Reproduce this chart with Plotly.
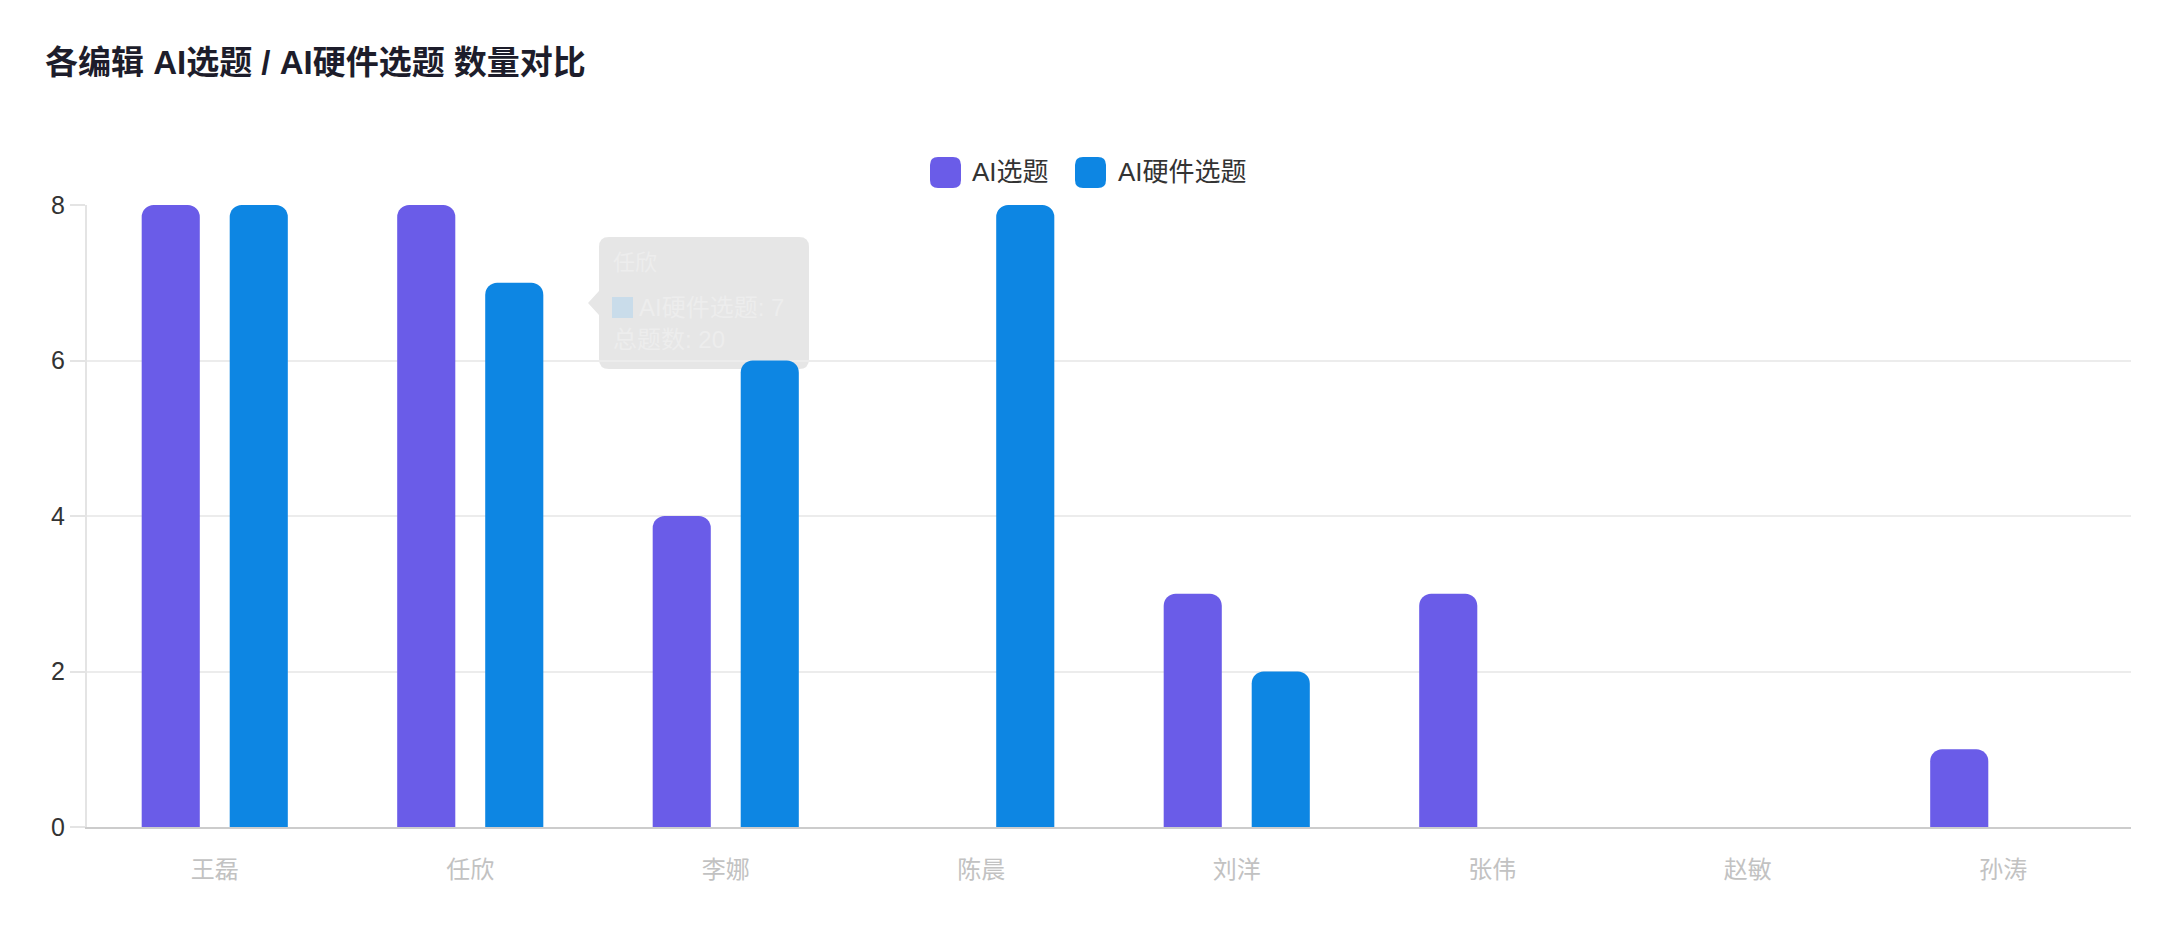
import plotly.graph_objects as go

# ---------------- data ----------------
editors = ["王磊", "任欣", "李娜", "陈晨", "刘洋", "张伟", "赵敏", "孙涛"]
ai_topics = [8, 8, 4, 0, 3, 3, 0, 1]
ai_hw_topics = [8, 7, 6, 8, 2, 0, 0, 0]
series_names = ["AI选题", "AI硬件选题"]
series_colors = ["#6a5ce8", "#0d86e3"]
y_ticks = [0, 2, 4, 6, 8]
title_text = "各编辑 AI选题 / AI硬件选题 数量对比"
tooltip_title = "任欣"
tooltip_line1 = "AI硬件选题: 7"
tooltip_line2 = "总题数: 20"

# ---------------- layout geometry (screen pixels) ----------------
OFF = 8                      # page body margin
W, H = 2158 - OFF, 926 - OFF  # figure size
L, R, T, B = 87, 2131, 205, 827   # plot area in screen pixels
FONT = "Liberation Sans, Noto Sans CJK SC, sans-serif"


def px_x(x):
    return (x - L) / (R - L)


def px_y(y):
    return (B - y) / (B - T)


def rrect(x0, y0, x1, y1, r):
    pts = [
        ("M", [(x0 + r, y0)]),
        ("L", [(x1 - r, y0)]),
        ("Q", [(x1, y0), (x1, y0 + r)]),
        ("L", [(x1, y1 - r)]),
        ("Q", [(x1, y1), (x1 - r, y1)]),
        ("L", [(x0 + r, y1)]),
        ("Q", [(x0, y1), (x0, y1 - r)]),
        ("L", [(x0, y0 + r)]),
        ("Q", [(x0, y0), (x0 + r, y0)]),
    ]
    s = ""
    for cmd, ps in pts:
        s += cmd + " " + " ".join(f"{px_x(a):.5f},{px_y(b):.5f}" for a, b in ps) + " "
    return s + "Z"


fig = go.Figure()
for name, vals, col in zip(series_names, [ai_topics, ai_hw_topics], series_colors):
    fig.add_trace(go.Bar(
        x=editors, y=vals, name=name,
        marker=dict(color=col, cornerradius=12, line=dict(width=0)),
        showlegend=False,
    ))

shapes = []
annotations = []

# custom legend
legend_items = [(930, 961, 970), (1075, 1106, 1116)]
for (sx0, sx1, tx), name, col in zip(legend_items, series_names, series_colors):
    shapes.append(dict(type="path", xref="paper", yref="paper",
                       path=rrect(sx0, 157, sx1, 188, 8),
                       fillcolor=col, line=dict(width=0)))
    annotations.append(dict(xref="paper", yref="paper", x=px_x(tx), y=px_y(172),
                            text=name, showarrow=False, xanchor="left", yanchor="middle",
                            font=dict(size=26, color="#333333", family=FONT)))

# faded tooltip
shapes.append(dict(type="path", xref="paper", yref="paper", layer="below",
                   path=rrect(599, 237, 809, 369, 10),
                   fillcolor="#e6e6e6", line=dict(width=0)))
shapes.append(dict(type="path", xref="paper", yref="paper", layer="below",
                   path=f"M {px_x(599)},{px_y(291)} L {px_x(588)},{px_y(303)} L {px_x(599)},{px_y(315)} Z",
                   fillcolor="#e6e6e6", line=dict(width=0)))
shapes.append(dict(type="rect", xref="paper", yref="paper",
                   x0=px_x(612), x1=px_x(633), y0=px_y(318), y1=px_y(297),
                   fillcolor="#c9dcea", line=dict(width=0)))
annotations.append(dict(xref="paper", yref="paper", x=px_x(611), y=px_y(263),
                        text=tooltip_title, showarrow=False, xanchor="left", yanchor="middle",
                        font=dict(size=22, color="#ededed", family=FONT)))
annotations.append(dict(xref="paper", yref="paper", x=px_x(637), y=px_y(307),
                        text=tooltip_line1, showarrow=False, xanchor="left", yanchor="middle",
                        font=dict(size=24, color="#ededed", family=FONT)))
annotations.append(dict(xref="paper", yref="paper", x=px_x(611), y=px_y(339),
                        text=tooltip_line2, showarrow=False, xanchor="left", yanchor="middle",
                        font=dict(size=24, color="#ededed", family=FONT)))

fig.update_layout(
    width=W, height=H,
    margin=dict(l=L - OFF, r=W - (R - OFF), t=T - OFF, b=H - (B - OFF), pad=0),
    paper_bgcolor="white", plot_bgcolor="white",
    barmode="group", bargap=0.311, bargroupgap=0.34,
    title=dict(text=f"<b>{title_text}</b>", xref="container", yref="container",
               x=(45 - OFF) / W, xanchor="left", y=1 - (62 - OFF) / H, yanchor="middle",
               font=dict(size=33, color="#1d1d2b", family=FONT)),
    shapes=shapes, annotations=annotations,
    font=dict(family=FONT),
    showlegend=False,
)
fig.update_xaxes(
    showline=True, linecolor="#cccccc", linewidth=2,
    showgrid=False, ticks="", ticklabelstandoff=20,
    tickfont=dict(size=24, color="#c2c2c2", family=FONT),
)
fig.update_yaxes(
    range=[0, 8], tickvals=y_ticks,
    showline=True, linecolor="#e4e4e4", linewidth=2,
    showgrid=True, gridcolor="#ececec", gridwidth=1.5,
    zeroline=False,
    ticks="outside", ticklen=15, tickcolor="#e4e4e4", tickwidth=1.5,
    tickfont=dict(size=25, color="#333333", family=FONT),
)

fig.write_html("out.html")
